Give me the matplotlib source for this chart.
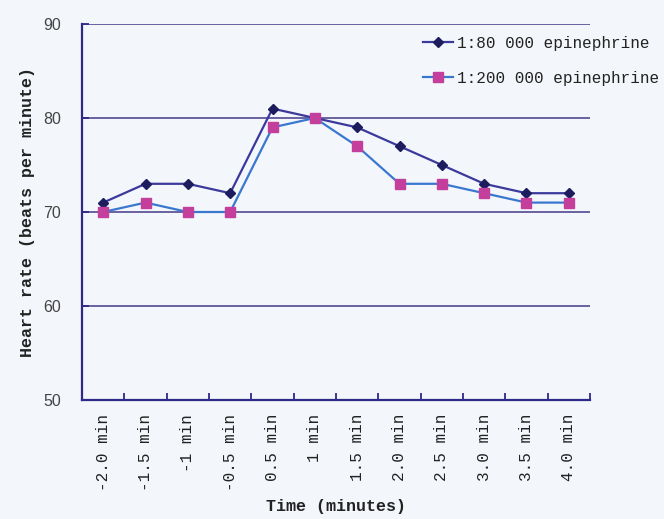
import numpy as np
from matplotlib import pyplot as plt

# time points and heart rate values
times = ["-2.0 min", "-1.5 min", "-1 min", "-0.5 min", "0.5 min", "1 min",
         "1.5 min", "2.0 min", "2.5 min", "3.0 min", "3.5 min", "4.0 min"]
hr_80000 = [71, 73, 73, 72, 81, 80, 79, 77, 75, 73, 72, 72]
hr_200000 = [70, 71, 70, 70, 79, 80, 77, 73, 73, 72, 71, 71]
yticks = [50, 60, 70, 80, 90]

bg = "#f3f6fa"
axcol = "#2e2a8a"

fig = plt.figure(figsize=(6.64, 5.19), dpi=100, facecolor=bg)
ax = fig.add_axes([82/664, 1-400/519, 508/664, 376/519], facecolor=bg)

x = np.arange(len(times))
ax.plot(x, hr_80000, color="#3b3a9c", lw=1.6, marker="D", ms=5,
        mfc="#1c1c5e", mec="#1c1c5e", label="1:80 000 epinephrine", zorder=3)
ax.plot(x, hr_200000, color="#3a78d0", lw=1.6, marker="s", ms=7,
        mfc="#c43f9c", mec="#c43f9c", label="1:200 000 epinephrine", zorder=3)

ax.set_xlim(-0.5, len(times) - 0.5)
ax.set_ylim(50, 90)
ax.set_yticks(yticks)
ax.set_yticklabels([str(v) for v in yticks], fontsize=11.5, color="#444444", family="Liberation Sans")
ax.set_xticks(x)
ax.set_xticklabels(times, rotation=90, fontsize=11.5, family="Liberation Mono", color="#222222")
ax.set_xticks(np.arange(len(times) + 1) - 0.5, minor=True)
ax.tick_params(axis="x", which="major", length=0, pad=10)
ax.tick_params(axis="x", which="minor", length=5, direction="in", color=axcol, width=1.3)
ax.tick_params(axis="y", length=5, direction="in", color=axcol, width=1.3, pad=15)

for v in yticks[1:]:
    ax.axhline(v, color="#5e5698", lw=1.3, zorder=1)

for s in ["top", "right"]:
    ax.spines[s].set_visible(False)
for s in ["left", "bottom"]:
    ax.spines[s].set_color(axcol)
    ax.spines[s].set_linewidth(1.6)

ax.set_xlabel("Time (minutes)", fontsize=12, fontweight="bold", family="Liberation Mono",
              color="#222222", labelpad=6)
ax.set_ylabel("Heart rate (beats per minute)", fontsize=12, fontweight="bold",
              family="Liberation Mono", color="#222222", labelpad=6)

leg = ax.legend(loc="upper left", bbox_to_anchor=(423/664, 1-36/519),
                bbox_transform=fig.transFigure, frameon=False,
                prop={"family": "Liberation Mono", "size": 11.5}, handlelength=1.9,
                handletextpad=0.25, labelspacing=1.25, borderpad=0, borderaxespad=0)
for t in leg.get_texts():
    t.set_color("#222222")

plt.savefig("out.png", dpi=100, facecolor=bg)
